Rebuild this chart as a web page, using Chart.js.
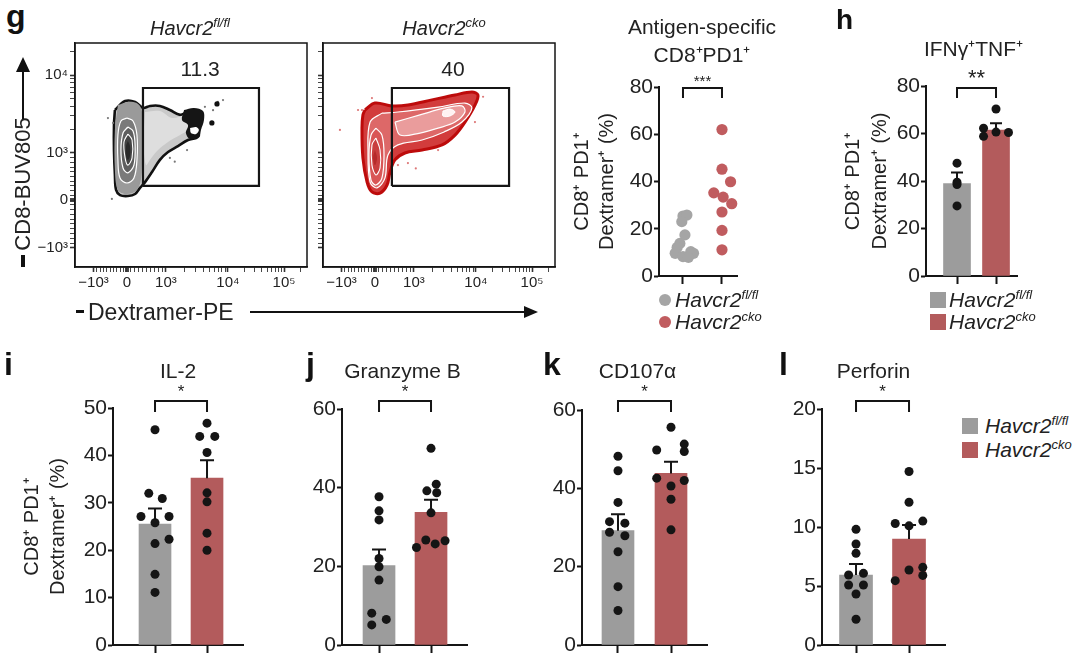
<!DOCTYPE html>
<html><head><meta charset="utf-8">
<script src="https://cdn.jsdelivr.net/npm/chart.js"></script>
<style>
html,body{margin:0;padding:0;background:#fff;}
#root{position:relative;width:1080px;height:664px;overflow:hidden;font-family:'Liberation Sans',Arial,Helvetica,sans-serif;color:#222;}
canvas{position:absolute;}
.t{position:absolute;white-space:nowrap;}
.lg{position:absolute;white-space:nowrap;font-style:italic;font-size:21px;line-height:22px;}
.lg sup,.ft sup{font-size:13px;vertical-align:8px;line-height:0;}
.ft{position:absolute;white-space:nowrap;font-style:italic;font-size:20px;line-height:22px;transform:translateX(-50%);}
.letter{position:absolute;font-weight:bold;line-height:1;color:#111;}
.blk{position:absolute;background:#111;}
.dot{position:absolute;width:12px;height:12px;border-radius:50%;}
.sq{position:absolute;width:16px;height:16px;}
</style></head>
<body><div id="root">
<canvas id="flowL"></canvas>
<canvas id="flowR"></canvas>
<canvas id="antigen"></canvas>
<canvas id="ifn"></canvas>
<canvas id="il2"></canvas>
<canvas id="gzmb"></canvas>
<canvas id="cd107"></canvas>
<canvas id="prf"></canvas>

<div class="letter" style="left:6px;top:0px;font-size:32px;">g</div>
<div class="letter" style="left:836px;top:6px;font-size:28px;">h</div>
<div class="letter" style="left:4px;top:348px;font-size:32px;">i</div>
<div class="letter" style="left:306px;top:348px;font-size:32px;">j</div>
<div class="letter" style="left:543px;top:348px;font-size:32px;">k</div>
<div class="letter" style="left:779px;top:348px;font-size:32px;">l</div>

<div class="ft" style="left:190px;top:17px;">Havcr2<sup>fl/fl</sup></div>
<div class="ft" style="left:444px;top:17px;">Havcr2<sup>cko</sup></div>

<!-- flow axis titles with arrows -->
<div class="blk" style="left:76px;top:310px;width:8px;height:3px;"></div>
<div class="t" style="left:88px;top:299px;font-size:23px;line-height:26px;">Dextramer-PE</div>
<div class="blk" style="left:250px;top:311px;width:276px;height:2px;"></div>
<div class="t" style="left:524px;top:306px;width:0;height:0;border-left:14px solid #111;border-top:6px solid transparent;border-bottom:6px solid transparent;"></div>

<div class="blk" style="left:21px;top:255px;width:4px;height:12px;"></div>
<div class="t" style="left:23px;top:184px;font-size:22px;line-height:24px;transform:translate(-50%,-50%) rotate(-90deg);">CD8-BUV805</div>
<div class="blk" style="left:22px;top:71px;width:2px;height:48px;"></div>
<div class="t" style="left:16px;top:57px;width:0;height:0;border-bottom:15px solid #111;border-left:7px solid transparent;border-right:7px solid transparent;"></div>

<!-- legends -->
<div class="dot" style="left:659px;top:294px;background:#a5a5a5;"></div>
<div class="lg" style="left:675px;top:289px;">Havcr2<sup>fl/fl</sup></div>
<div class="dot" style="left:659px;top:316px;background:#c05c5f;"></div>
<div class="lg" style="left:675px;top:311px;">Havcr2<sup>cko</sup></div>

<div class="sq" style="left:930px;top:292px;background:#9c9c9c;"></div>
<div class="lg" style="left:949px;top:289px;">Havcr2<sup>fl/fl</sup></div>
<div class="sq" style="left:930px;top:314px;background:#b35b5c;"></div>
<div class="lg" style="left:949px;top:311px;">Havcr2<sup>cko</sup></div>

<div class="sq" style="left:962px;top:418px;background:#9c9c9c;"></div>
<div class="lg" style="left:985px;top:415px;">Havcr2<sup>fl/fl</sup></div>
<div class="sq" style="left:962px;top:442px;background:#b35b5c;"></div>
<div class="lg" style="left:985px;top:439px;">Havcr2<sup>cko</sup></div>
</div>

<script>
// ===================== DATA =====================
const groupLabels = ['Havcr2 fl/fl', 'Havcr2 cko'];
const yAxisTitleLines = ['CD8⁺ PD1⁺', 'Dextramer⁺ (%)'];

// --- panel g, flow plots (biexponential display channels, 0–1000) ---
const flowXTickValues = [80, 224, 392, 659, 901];
const flowXTickLabels = ['−10³', '0', '10³', '10⁴', '10⁵'];
const flowYTickValues = [85, 299, 509, 857];
const flowYTickLabels = ['−10³', '0', '10³', '10⁴'];

const gateFlFlX = [293, 793];
const gateFlFlY = [362, 799];
const gateCkoX = [297, 802];
const gateCkoY = [362, 799];
const gateFreqFlFl = '11.3';
const gateFreqCko = '40';
const gateFreqPosFlFl = [539, 879];
const gateFreqPosCko = [560, 879];

const flFlOuter = [[172,701],[216,741],[259,737],[293,710],[323,719],[366,719],[409,701],[453,679],[487,692],[522,692],[543,674],[539,634],[522,607],[534,589],[522,576],[487,567],[444,540],[401,513],[366,478],[332,424],[302,379],[280,353],[259,326],[228,317],[194,321],[177,344],[172,411],[168,522],[168,634],[172,701]];
const flFlArm = [[302,692],[366,696],[418,665],[478,679],[517,670],[504,620],[453,589],[401,558],[358,522],[323,478],[306,455],[295,560],[302,692]];
const flFlTip = [[470,701],[513,710],[552,696],[556,656],[543,612],[534,580],[496,571],[478,598],[487,634],[461,656],[470,701]];
const flFlHole = [[496,620],[522,625],[534,612],[522,594],[500,598],[496,620]];
const flFlLobe = [[185,723],[228,737],[272,728],[289,692],[289,522],[284,388],[263,339],[220,326],[185,344],[172,433],[172,612],[185,723]];
const flFlRingA = [[224,665],[250,652],[267,589],[267,478],[254,397],[224,375],[194,397],[185,478],[185,589],[198,652],[224,665]];
const flFlRingB = [[228,625],[250,607],[259,545],[254,455],[228,420],[207,442],[198,522],[207,598],[228,625]];
const flFlRingC = [[228,594],[246,567],[246,487],[228,455],[216,487],[211,558],[228,594]];
const flFlCore = [[228,562],[237,540],[237,496],[228,478],[220,496],[220,540],[228,562]];
const flFlEventsLarge = [[612,728],[590,643]];
const flFlEventsSmall = [[142,665],[164,643],[638,745],[616,737],[483,522],[409,487],[159,304],[560,715],[595,700],[430,470]];

const ckoOuter = [[181,701],[224,732],[297,719],[366,723],[470,746],[569,768],[642,781],[668,768],[655,723],[612,647],[569,589],[513,545],[427,522],[353,509],[310,478],[289,424],[276,366],[246,330],[211,335],[190,379],[172,487],[168,620],[172,679],[181,701]];
const ckoLevel2 = [[254,687],[323,692],[496,714],[612,732],[642,710],[599,647],[522,603],[427,567],[323,545],[280,500],[267,397],[233,353],[203,379],[194,513],[203,647],[254,687]];
const ckoArm = [[310,647],[418,679],[526,710],[599,719],[612,692],[569,647],[496,620],[418,598],[332,589],[310,647]];
const ckoPeak = [[517,696],[547,705],[569,692],[547,674],[517,674],[517,696]];
const ckoLobe1 = [[228,620],[254,589],[263,500],[254,397],[228,366],[207,388],[198,500],[207,589],[228,620]];
const ckoLobe2 = [[228,576],[246,522],[246,442],[228,411],[211,455],[211,545],[228,576]];
const ckoCore = [[224,522],[233,487],[224,455],[216,487],[224,522]];
const ckoEventsSmall = [[168,701],[211,754],[366,464],[323,455],[655,647],[496,522],[151,701],[73,612],[690,760],[400,440]];

// --- panel g, antigen-specific CD8+PD1+ (%), individual mice ---
const antigenFlFl = [25.4, 25.8, 23.0, 17.4, 13.8, 12.1, 10.3, 9.6, 8.2, 9.6, 7.9];
const antigenFlFlJitter = [0, 0.1, -0.03, 0.05, -0.08, -0.15, 0.2, -0.2, 0, 0.27, 0.14];
const antigenCko = [62.0, 45.2, 39.9, 35.2, 33.4, 30.6, 27.1, 19.3, 11.1];
const antigenCkoJitter = [0, 0, 0.22, -0.21, 0.03, 0.25, 0, 0, 0];

// --- panel h, IFNγ+TNF+ ---
const ifnMean = [38.9, 61.4];
const ifnSem = [4.7, 2.9];
const ifnFlFl = [47.5, 39.5, 38.5, 29.5];
const ifnFlFlJitter = [0, 0, 0, 0];
const ifnCko = [70.3, 62.2, 58.8, 60.6, 60.4];
const ifnCkoJitter = [0, -0.32, -0.32, 0, 0.32];

// --- panel i, IL-2 ---
const il2Mean = [25.5, 35.2];
const il2Sem = [3.3, 3.8];
const il2FlFl = [45.4, 32.0, 30.9, 27.1, 27.1, 25.8, 22.3, 21.4, 14.9, 11.1];
const il2FlFlJitter = [0, -0.12, 0.14, -0.27, 0.27, 0, 0.27, 0, 0, 0];
const il2Cko = [46.8, 44.0, 44.0, 40.6, 32.1, 30.2, 23.6, 20.0];
const il2CkoJitter = [0, -0.14, 0.15, 0, 0, 0, 0, 0];

// --- panel j, Granzyme B ---
const gzmbMean = [20.2, 33.7];
const gzmbSem = [4.1, 3.2];
const gzmbFlFl = [37.7, 34.1, 31.8, 22.0, 19.9, 16.5, 8.1, 6.5, 5.1];
const gzmbFlFlJitter = [0, 0, 0, 0, 0, 0, -0.14, 0.14, -0.14];
const gzmbCko = [50.0, 39.2, 40.9, 38.7, 33.6, 24.8, 26.7, 25.7, 26.5];
const gzmbCkoJitter = [0, -0.08, 0.1, 0.11, 0, -0.28, -0.1, 0.08, 0.27];

// --- panel k, CD107α ---
const cd107Mean = [29.2, 43.8];
const cd107Sem = [4.2, 3.0];
const cd107FlFl = [48.2, 44.5, 36.4, 31.5, 31.1, 28.8, 27.9, 23.8, 14.9, 8.8];
const cd107FlFlJitter = [0, 0, 0, -0.16, 0.13, -0.16, 0.13, 0, 0, 0];
const cd107Cko = [55.6, 49.8, 51.3, 49.4, 42.6, 40.6, 42.0, 37.2, 29.4];
const cd107CkoJitter = [0, -0.27, 0.25, 0.25, -0.27, 0, 0.25, 0, 0];

// --- panel l, Perforin ---
const prfMean = [5.93, 8.98];
const prfSem = [0.93, 1.19];
const prfFlFl = [9.8, 8.56, 7.77, 5.93, 6.07, 5.08, 5.08, 4.32, 2.18];
const prfFlFlJitter = [0, 0, 0, -0.14, 0.14, -0.14, 0.14, 0, 0];
const prfCko = [14.7, 12.1, 10.3, 10.5, 10.1, 6.36, 6.58, 5.9, 5.45];
const prfCkoJitter = [0, 0, -0.26, 0.26, 0, 0, 0.26, 0.26, -0.26];

// ===================== RENDERING =====================
const FONT = "'Liberation Sans', Arial, Helvetica, sans-serif";
Chart.defaults.font.family = FONT;
Chart.defaults.color = '#222';
const GRAY_BAR = '#9c9c9c', RED_BAR = '#b35b5c', GRAY_DOT = '#a5a5a5', RED_DOT = '#c05c5f', INK = '#151515';

function setupCanvas(id, L, T, W, H) {
  const c = document.getElementById(id);
  c.width = W; c.height = H;
  c.style.left = L + 'px'; c.style.top = T + 'px';
  c.style.width = W + 'px'; c.style.height = H + 'px';
  return c;
}

const decor = {
  id: 'decor',
  afterDatasetDraw(chart, args, o) {
    const ds = chart.data.datasets[args.index];
    if (!ds.errors) return;
    const meta = chart.getDatasetMeta(args.index);
    const ys = chart.scales.y, ctx = chart.ctx;
    ctx.save(); ctx.strokeStyle = INK; ctx.lineWidth = 2;
    meta.data.forEach((bar, i) => {
      const m = ds.data[i].y;
      const x = bar.x, y0 = ys.getPixelForValue(m), y1 = ys.getPixelForValue(m + ds.errors[i]);
      ctx.beginPath();
      ctx.moveTo(x, y0); ctx.lineTo(x, y1);
      ctx.moveTo(x - o.cap, y1); ctx.lineTo(x + o.cap, y1);
      ctx.stroke();
    });
    ctx.restore();
  },
  afterDraw(chart, args, o) {
    const ctx = chart.ctx, a = chart.chartArea, xs = chart.scales.x, ys = chart.scales.y;
    ctx.save();
    ctx.fillStyle = '#222'; ctx.textAlign = 'center';
    if (o.title) {
      ctx.textBaseline = 'middle';
      ctx.font = o.titleSize + 'px ' + FONT;
      o.title.forEach((t, i) => ctx.fillText(t, (a.left + a.right) / 2 + (o.titleDx || 0), o.titleY[i]));
    }
    if (o.bracket) {
      const x1 = xs.getPixelForValue(1), x2 = xs.getPixelForValue(2);
      const yb = a.top + o.bracketDy, yl = a.top + o.bracketLeg;
      ctx.strokeStyle = INK; ctx.lineWidth = 2;
      ctx.beginPath(); ctx.moveTo(x1, yl); ctx.lineTo(x1, yb); ctx.lineTo(x2, yb); ctx.lineTo(x2, yl); ctx.stroke();
      ctx.textBaseline = 'alphabetic';
      ctx.font = o.starsSize + 'px ' + FONT;
      ctx.fillText(o.stars, (x1 + x2) / 2, a.top + o.starsDy + 0.58 * o.starsSize);
    }
    if (o.box) {
      ctx.strokeStyle = INK; ctx.lineWidth = 1.5;
      ctx.strokeRect(a.left, a.top, a.right - a.left, a.bottom - a.top);
    }
    if (o.gateText) {
      ctx.textBaseline = 'middle';
      ctx.font = '21px ' + FONT;
      ctx.fillText(o.gateText, xs.getPixelForValue(o.gatePos[0]), ys.getPixelForValue(o.gatePos[1]));
    }
    ctx.restore();
  }
};

function flowMinorTicks(major, maxVal) {
  const out = [];
  for (let k = 1; k < 10; k++) {
    out.push(major[0] + (major[1] - major[0]) * k / 10);
    out.push(major[1] + (major[2] - major[1]) * k / 10);
  }
  for (let d = 2; d < major.length; d++) {
    const a = major[d], b = d + 1 < major.length ? major[d + 1] : a + (a - major[d - 1]);
    for (let k = 2; k < 10; k++) { const v = a + (b - a) * Math.log10(k); if (v < maxVal) out.push(v); }
  }
  [-6, -3, 3, 6].forEach(o => out.push(major[1] + o));
  return out;
}

function flowChart(cfg) {
  const c = setupCanvas(cfg.id, cfg.left, cfg.top, cfg.width, cfg.height);
  const toPts = arr => arr.map(p => ({x: p[0], y: p[1]}));
  const datasets = cfg.layers.map((L, i) => ({
    type: 'line', data: toPts(L.pts), fill: 'shape', backgroundColor: L.fill,
    borderColor: L.stroke || 'rgba(0,0,0,0)', borderWidth: L.width || 0,
    tension: 0.35, pointRadius: 0, order: 100 - i
  }));
  cfg.events.forEach((E, i) => datasets.push({
    type: 'line', data: toPts(E.pts), showLine: false, pointRadius: E.r, pointBorderWidth: 0,
    pointBackgroundColor: E.color, order: 5 + i
  }));
  const gx = cfg.gateX, gy = cfg.gateY;
  datasets.push({type: 'line', data: [{x: gx[0], y: gy[0]}, {x: gx[1], y: gy[0]}, {x: gx[1], y: gy[1]}, {x: gx[0], y: gy[1]}, {x: gx[0], y: gy[0]}],
    fill: false, borderColor: INK, borderWidth: 2.2, tension: 0, pointRadius: 0, order: 0});

  const xMinor = flowMinorTicks(flowXTickValues, 1000);
  const yMinor = flowMinorTicks(flowYTickValues, 1000);
  return new Chart(c, {
    type: 'line',
    data: {datasets},
    plugins: [decor],
    options: {
      responsive: false, animation: false, devicePixelRatio: 1,
      layout: {padding: {top: cfg.padTop, right: cfg.padRight, left: 0, bottom: 0}},
      plugins: {legend: {display: false}, tooltip: {enabled: false},
        decor: {box: true, gateText: cfg.gateText, gatePos: cfg.gatePos}},
      scales: {
        x: {type: 'linear', min: 0, max: 1000, offset: false,
          afterBuildTicks: s => { s.ticks = flowXTickValues.concat(xMinor).map(v => ({value: v})); },
          afterFit: s => { s.height = cfg.xH; },
          ticks: {autoSkip: false, maxRotation: 0, minRotation: 0, font: {size: 15}, color: '#222', padding: 2,
            callback: v => { const j = flowXTickValues.indexOf(v); return j >= 0 ? flowXTickLabels[j] : ''; }},
          grid: {drawOnChartArea: false, drawTicks: true, tickLength: 5, tickColor: '#333',
            tickWidth: ctx => (ctx.tick && flowXTickValues.includes(ctx.tick.value)) ? 1.6 : 0.9},
          border: {display: true, color: INK, width: 1.5}},
        y: {type: 'linear', min: 0, max: 1000,
          afterBuildTicks: s => { s.ticks = flowYTickValues.concat(yMinor).map(v => ({value: v})); },
          afterFit: s => { s.width = cfg.yW; },
          ticks: {autoSkip: false, font: {size: 15}, color: '#222', padding: 2,
            callback: v => { if (!cfg.yLabels) return ''; const j = flowYTickValues.indexOf(v); return j >= 0 ? flowYTickLabels[j] : ''; }},
          grid: {drawOnChartArea: false, drawTicks: true, tickLength: 5, tickColor: '#333',
            tickWidth: ctx => (ctx.tick && flowYTickValues.includes(ctx.tick.value)) ? 1.6 : 0.9},
          border: {display: true, color: INK, width: 1.5}}
      }
    }
  });
}

function barPanel(cfg) {
  const c = setupCanvas(cfg.id, cfg.left, cfg.top, cfg.width, cfg.height);
  const pts = cfg.ptsA.map((v, i) => ({x: 1 + cfg.jitA[i], y: v}))
    .concat(cfg.ptsB.map((v, i) => ({x: 2 + cfg.jitB[i], y: v})));
  const datasets = [];
  if (cfg.means) {
    datasets.push({type: 'bar', data: cfg.means.map((m, i) => ({x: i + 1, y: m})), errors: cfg.sems,
      backgroundColor: [GRAY_BAR, RED_BAR], borderWidth: 0, barThickness: cfg.barW, order: 2});
  }
  const dotColors = cfg.dotColored
    ? cfg.ptsA.map(() => GRAY_DOT).concat(cfg.ptsB.map(() => RED_DOT))
    : INK;
  datasets.push({type: 'scatter', data: pts, pointRadius: cfg.dotR, pointHoverRadius: cfg.dotR,
    backgroundColor: dotColors, pointBackgroundColor: dotColors, pointBorderWidth: 0, borderWidth: 0, order: 0, clip: false});

  return new Chart(c, {
    type: 'scatter',
    data: {datasets},
    plugins: [decor],
    options: {
      responsive: false, animation: false, devicePixelRatio: 1,
      layout: {padding: {top: cfg.padTop, right: cfg.padRight, left: 0, bottom: 0}},
      plugins: {legend: {display: false}, tooltip: {enabled: false},
        decor: {cap: cfg.cap || 7, title: cfg.title, titleY: cfg.titleY, titleDx: cfg.titleDx || 0, titleSize: cfg.titleSize || 20,
          bracket: true, bracketDy: cfg.bracketDy, bracketLeg: cfg.bracketLeg, stars: cfg.stars, starsDy: cfg.starsDy, starsSize: cfg.starsSize}},
      scales: {
        x: {type: 'linear', min: cfg.xMin, max: cfg.xMax, offset: false,
          afterBuildTicks: s => { s.ticks = [{value: 1}, {value: 2}]; },
          afterFit: s => { s.height = cfg.xH; },
          ticks: {display: false},
          grid: {display: true, offset: false, drawOnChartArea: false, drawTicks: true, tickLength: 8, tickWidth: 2, tickColor: INK},
          border: {display: true, width: 2, color: INK}},
        y: {type: 'linear', min: 0, max: cfg.yMax,
          afterFit: s => { s.width = cfg.yW; },
          ticks: {stepSize: cfg.yStep, font: {size: 21}, color: '#222', padding: 1},
          grid: {drawOnChartArea: false, drawTicks: true, tickLength: 5, tickWidth: 2, tickColor: INK},
          border: {display: true, width: 2, color: INK},
          title: cfg.yTitle
            ? {display: true, text: yAxisTitleLines, color: '#222', font: {size: 20, lineHeight: cfg.yTitleLH + 'px'}, padding: {top: cfg.yTitlePad, bottom: 0}}
            : {display: false}}
      }
    }
  });
}

// ---- panel g flow plots ----
flowChart({id: 'flowL', left: 28, top: 30, width: 284, height: 276, padTop: 13, padRight: 5, yW: 47, xH: 39, yLabels: true,
  layers: [
    {pts: flFlOuter, fill: '#c9c9c9', stroke: '#111', width: 2.6},
    {pts: flFlArm, fill: '#dedede'},
    {pts: flFlTip, fill: '#151515'},
    {pts: flFlHole, fill: '#ffffff'},
    {pts: flFlLobe, fill: '#9a9a9a'},
    {pts: flFlRingA, fill: '#7a7a7a', stroke: '#ffffff', width: 1.2},
    {pts: flFlRingB, fill: '#5e5e5e', stroke: '#ffffff', width: 1.2},
    {pts: flFlRingC, fill: '#444444', stroke: '#ffffff', width: 1.1},
    {pts: flFlCore, fill: '#2a2a2a'}
  ],
  events: [{pts: flFlEventsLarge, r: 2.6, color: '#111'}, {pts: flFlEventsSmall, r: 1.1, color: '#777'}],
  gateX: gateFlFlX, gateY: gateFlFlY, gateText: gateFreqFlFl, gatePos: gateFreqPosFlFl});

flowChart({id: 'flowR', left: 313, top: 30, width: 247, height: 276, padTop: 13, padRight: 5, yW: 10, xH: 39, yLabels: false,
  layers: [
    {pts: ckoOuter, fill: '#d23c3c', stroke: '#bd0b0b', width: 3},
    {pts: ckoLevel2, fill: '#dd6868', stroke: '#ffffff', width: 1.2},
    {pts: ckoArm, fill: '#ea9c9c', stroke: '#ffffff', width: 1.2},
    {pts: ckoPeak, fill: '#fff2f2', stroke: '#ffffff', width: 1},
    {pts: ckoLobe1, fill: '#d95656', stroke: '#ffffff', width: 1.2},
    {pts: ckoLobe2, fill: '#c93e3e', stroke: '#ffffff', width: 1.1},
    {pts: ckoCore, fill: '#b52a2a'}
  ],
  events: [{pts: ckoEventsSmall, r: 1.1, color: '#d77'}],
  gateX: gateCkoX, gateY: gateCkoY, gateText: gateFreqCko, gatePos: gateFreqPosCko});

// ---- panel g dot plot ----
barPanel({id: 'antigen', left: 560, top: 0, width: 245, height: 290, padTop: 87, padRight: 68, yW: 99, xH: 14,
  xMin: 0.385, xMax: 2.385, yMax: 80, yStep: 20, dotR: 5.6, dotColored: true,
  ptsA: antigenFlFl, jitA: antigenFlFlJitter, ptsB: antigenCko, jitB: antigenCkoJitter,
  yTitle: true, yTitleLH: 25, yTitlePad: 9.5,
  title: ['Antigen-specific', 'CD8⁺PD1⁺'], titleY: [28, 56], titleDx: 4, titleSize: 21,
  bracketDy: 1, bracketLeg: 11, stars: '***', starsDy: -10, starsSize: 15});

// ---- panel h ----
barPanel({id: 'ifn', left: 820, top: 0, width: 220, height: 290, padTop: 86, padRight: 23, yW: 106, xH: 14,
  xMin: 0.205, xMax: 2.538, yMax: 80, yStep: 20, dotR: 4.5, barW: 27, cap: 6,
  means: ifnMean, sems: ifnSem,
  ptsA: ifnFlFl, jitA: ifnFlFlJitter, ptsB: ifnCko, jitB: ifnCkoJitter,
  yTitle: true, yTitleLH: 27, yTitlePad: 19.5,
  title: ['IFNγ⁺TNF⁺'], titleY: [50], titleDx: 2, titleSize: 21,
  bracketDy: 2, bracketLeg: 12, stars: '**', starsDy: -14, starsSize: 22});

// ---- panel i ----
barPanel({id: 'il2', left: 0, top: 345, width: 265, height: 319, padTop: 63, padRight: 22, yW: 113, xH: 19,
  xMin: 0.192, xMax: 2.692, yMax: 50, yStep: 10, dotR: 4.5, barW: 32, cap: 7,
  means: il2Mean, sems: il2Sem,
  ptsA: il2FlFl, jitA: il2FlFlJitter, ptsB: il2Cko, jitB: il2CkoJitter,
  yTitle: true, yTitleLH: 26, yTitlePad: 19,
  title: ['IL-2'], titleY: [27], titleDx: 0, titleSize: 21,
  bracketDy: -7, bracketLeg: 4, stars: '*', starsDy: -21, starsSize: 17});

// ---- panel j ----
barPanel({id: 'gzmb', left: 282, top: 345, width: 205, height: 319, padTop: 64, padRight: 20, yW: 60, xH: 19,
  xMin: 0.288, xMax: 2.692, yMax: 60, yStep: 20, dotR: 4.5, barW: 32, cap: 7,
  means: gzmbMean, sems: gzmbSem,
  ptsA: gzmbFlFl, jitA: gzmbFlFlJitter, ptsB: gzmbCko, jitB: gzmbCkoJitter,
  yTitle: false,
  title: ['Granzyme B'], titleY: [27], titleDx: -2, titleSize: 21,
  bracketDy: -8, bracketLeg: 3, stars: '*', starsDy: -22, starsSize: 17});

// ---- panel k ----
barPanel({id: 'cd107', left: 522, top: 345, width: 205, height: 319, padTop: 65, padRight: 20, yW: 60, xH: 19,
  xMin: 0.321, xMax: 2.679, yMax: 60, yStep: 20, dotR: 4.5, barW: 32, cap: 7,
  means: cd107Mean, sems: cd107Sem,
  ptsA: cd107FlFl, jitA: cd107FlFlJitter, ptsB: cd107Cko, jitB: cd107CkoJitter,
  yTitle: false,
  title: ['CD107α'], titleY: [27], titleDx: -7, titleSize: 21,
  bracketDy: -9, bracketLeg: 2, stars: '*', starsDy: -23, starsSize: 17});

// ---- panel l ----
barPanel({id: 'prf', left: 762, top: 345, width: 200, height: 319, padTop: 64, padRight: 17, yW: 60, xH: 19,
  xMin: 0.358, xMax: 2.679, yMax: 20, yStep: 5, dotR: 4.5, barW: 33, cap: 7,
  means: prfMean, sems: prfSem,
  ptsA: prfFlFl, jitA: prfFlFlJitter, ptsB: prfCko, jitB: prfCkoJitter,
  yTitle: false,
  title: ['Perforin'], titleY: [27], titleDx: -10, titleSize: 21,
  bracketDy: -8, bracketLeg: 3, stars: '*', starsDy: -22, starsSize: 17});
</script>
</body></html>
